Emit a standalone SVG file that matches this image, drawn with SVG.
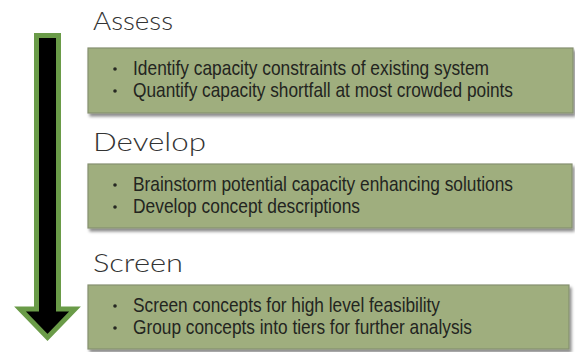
<svg xmlns="http://www.w3.org/2000/svg" width="575" height="352" viewBox="0 0 575 352">
<defs>
<filter id="sh" x="-5%" y="-10%" width="112%" height="130%">
<feDropShadow dx="2" dy="3" stdDeviation="1.8" flood-color="#000" flood-opacity="0.45"/>
</filter>
<style>
.box{fill:#9fae7e;stroke:#858f70;stroke-width:1.2;filter:url(#sh)}
.hd{font-family:"Lato","Open Sans",sans-serif;font-size:25px;font-weight:300;fill:#333333}
.tx{font-family:"Liberation Sans Narrow","Liberation Sans",Arial,sans-serif;font-size:21px;fill:#23251f}
.bl{fill:#262822}
</style>
</defs>
<rect width="575" height="352" fill="#ffffff"/>
<g id="connectors">
<polygon id="arrow" points="36.5,35.5 58.5,35.5 58.5,309 75,309 47.5,337.5 20,309 36.5,309" fill="#000" stroke="#6a9b48" stroke-width="5" stroke-linejoin="miter"/>
</g>
<g id="assess">
<text class="hd" x="93" y="30" textLength="80" lengthAdjust="spacingAndGlyphs">Assess</text>
<rect class="box" x="88" y="48" width="485" height="65"/>
<circle class="bl" cx="115" cy="69" r="1.8"/>
<circle class="bl" cx="115" cy="91" r="1.8"/>
<text class="tx" x="133" y="75" textLength="356" lengthAdjust="spacingAndGlyphs">Identify capacity constraints of existing system</text>
<text class="tx" x="133" y="97" textLength="380" lengthAdjust="spacingAndGlyphs">Quantify capacity shortfall at most crowded points</text>
</g>
<g id="develop">
<text class="hd" x="93" y="151" textLength="113" lengthAdjust="spacingAndGlyphs">Develop</text>
<rect class="box" x="88" y="164" width="484" height="64"/>
<circle class="bl" cx="115" cy="185" r="1.8"/>
<circle class="bl" cx="115" cy="207" r="1.8"/>
<text class="tx" x="133" y="191" textLength="380" lengthAdjust="spacingAndGlyphs">Brainstorm potential capacity enhancing solutions</text>
<text class="tx" x="133" y="213" textLength="227" lengthAdjust="spacingAndGlyphs">Develop concept descriptions</text>
</g>
<g id="screen">
<text class="hd" x="93" y="272" textLength="90" lengthAdjust="spacingAndGlyphs">Screen</text>
<rect class="box" x="88" y="285" width="481" height="64"/>
<circle class="bl" cx="115" cy="306" r="1.8"/>
<circle class="bl" cx="115" cy="328" r="1.8"/>
<text class="tx" x="133" y="312" textLength="307" lengthAdjust="spacingAndGlyphs">Screen concepts for high level feasibility</text>
<text class="tx" x="133" y="334" textLength="339" lengthAdjust="spacingAndGlyphs">Group concepts into tiers for further analysis</text>
</g>
</svg>
